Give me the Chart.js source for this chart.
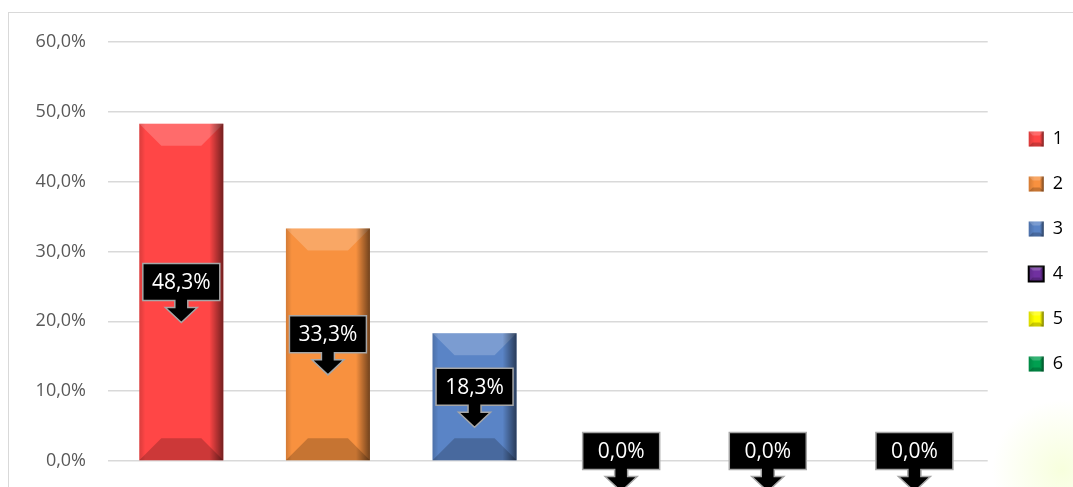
<!DOCTYPE html>
<html>
<head>
<meta charset="utf-8">
<script src="https://cdn.jsdelivr.net/npm/chart.js@4/dist/chart.umd.min.js"></script>
<style>
  html, body { margin: 0; padding: 0; background: #fff; }
  #wrap { width: 1073px; height: 487px; }
</style>
</head>
<body>
<div id="wrap"><canvas id="shareChart" width="1073" height="487"></canvas></div>
<script>
const categories = ['1', '2', '3', '4', '5', '6'];
const shares = [48.3, 33.3, 18.3, 0, 0, 0];
const barColors = ['#ff4646', '#f8913f', '#5a84c6', '#7030a0', '#ffff00', '#00a050'];
const yMin = 0, yMax = 60, yStep = 10;

const fmtPct = v => v.toFixed(1).replace('.', ',') + '%';

// page frame + faint glow in the lower right corner
const framePlugin = {
  id: 'frame',
  beforeDraw(chart) {
    const ctx = chart.ctx;
    ctx.save();
    ctx.fillStyle = '#fff';
    ctx.fillRect(0, 0, chart.width, chart.height);
    const g = ctx.createRadialGradient(1062, 470, 0, 1062, 470, 70);
    g.addColorStop(0, 'rgba(238,255,180,0.45)');
    g.addColorStop(1, 'rgba(238,255,180,0)');
    ctx.fillStyle = g;
    ctx.fillRect(990, 390, 83, 97);
    ctx.strokeStyle = '#d9d9d9';
    ctx.lineWidth = 1;
    ctx.strokeRect(8.5, 12.5, 1200, 600);
    ctx.restore();
  }
};

function bevel(ctx, left, top, right, bottom, depth) {
  const w = right - left, h = bottom - top;
  if (h < 1) return;
  const d = Math.min(depth, h / 2, w / 2);
  ctx.fillStyle = 'rgba(255,255,255,0.2)';
  ctx.beginPath();
  ctx.moveTo(left, top); ctx.lineTo(right, top);
  ctx.lineTo(right - d, top + d); ctx.lineTo(left + d, top + d);
  ctx.closePath(); ctx.fill();
  ctx.fillStyle = 'rgba(0,0,0,0.2)';
  ctx.beginPath();
  ctx.moveTo(left, bottom); ctx.lineTo(right, bottom);
  ctx.lineTo(right - d, bottom - d); ctx.lineTo(left + d, bottom - d);
  ctx.closePath(); ctx.fill();
  const sw = Math.min(14, w / 4);
  let g = ctx.createLinearGradient(right - sw, 0, right, 0);
  g.addColorStop(0, 'rgba(0,0,0,0)');
  g.addColorStop(1, 'rgba(0,0,0,0.55)');
  ctx.fillStyle = g;
  ctx.fillRect(right - sw, top, sw, h);
  g = ctx.createLinearGradient(left, 0, left + 6, 0);
  g.addColorStop(0, 'rgba(0,0,0,0.15)');
  g.addColorStop(1, 'rgba(0,0,0,0)');
  ctx.fillStyle = g;
  ctx.fillRect(left, top, 6, h);
}

const bevelPlugin = {
  id: 'bevel',
  afterDatasetsDraw(chart) {
    const ctx = chart.ctx;
    ctx.save();
    chart.getDatasetMeta(0).data.forEach(bar => {
      const p = bar.getProps(['x', 'y', 'base', 'width'], true);
      bevel(ctx, p.x - p.width / 2, p.y, p.x + p.width / 2, p.base, 22);
    });
    // legend swatches
    const lg = chart.legend;
    if (lg && lg.legendHitBoxes) {
      lg.legendHitBoxes.forEach(hb => {
        const top = hb.top + (hb.height - 15) / 2;
        bevel(ctx, hb.left, top, hb.left + 15, top + 15, 4);
      });
    }
    ctx.restore();
  }
};

// black callout with a down arrow
const calloutPlugin = {
  id: 'callouts',
  afterDraw(chart) {
    const ctx = chart.ctx;
    ctx.save();
    chart.getDatasetMeta(0).data.forEach((bar, i) => {
      const p = bar.getProps(['x', 'y', 'base'], true);
      const cx = p.x, cy = (p.y + p.base) / 2 - 10;
      const bw = 77, bh = 37, sw = 13, sh = 7, hw = 32, hh = 15;
      const top = cy - bh / 2, bot = cy + bh / 2;
      ctx.beginPath();
      ctx.moveTo(cx - bw / 2, top);
      ctx.lineTo(cx + bw / 2, top);
      ctx.lineTo(cx + bw / 2, bot);
      ctx.lineTo(cx + sw / 2, bot);
      ctx.lineTo(cx + sw / 2, bot + sh);
      ctx.lineTo(cx + hw / 2, bot + sh);
      ctx.lineTo(cx, bot + sh + hh);
      ctx.lineTo(cx - hw / 2, bot + sh);
      ctx.lineTo(cx - sw / 2, bot + sh);
      ctx.lineTo(cx - sw / 2, bot);
      ctx.lineTo(cx - bw / 2, bot);
      ctx.closePath();
      ctx.fillStyle = '#000';
      ctx.fill();
      ctx.strokeStyle = '#a6a6a6';
      ctx.lineWidth = 1.5;
      ctx.stroke();
      ctx.fillStyle = '#fff';
      ctx.font = '21px "Open Sans"';
      ctx.textAlign = 'center';
      ctx.textBaseline = 'middle';
      ctx.fillText(fmtPct(shares[i]), cx, cy + 1);
    });
    ctx.restore();
  }
};

new Chart(document.getElementById('shareChart'), {
  type: 'bar',
  data: {
    labels: categories,
    datasets: [{
      label: 'Share',
      data: shares,
      backgroundColor: barColors,
      borderWidth: 0,
      categoryPercentage: 1,
      barPercentage: 0.573
    }]
  },
  options: {
    responsive: false,
    animation: false,
    devicePixelRatio: 1,
    layout: { padding: { left: 8, top: 42, bottom: 26, right: 0 } },
    scales: {
      x: { display: false },
      y: {
        min: yMin,
        max: yMax,
        ticks: {
          stepSize: yStep,
          padding: 22,
          color: '#595959',
          font: { family: '"Open Sans"', size: 18 },
          callback: v => fmtPct(v)
        },
        grid: { color: '#d9d9d9', lineWidth: 1.5, drawTicks: false },
        border: { display: false },
        afterFit(s) {
          s.width = 100;
          // tick padding is only meant horizontally here
          s.paddingTop = 11;
          s.paddingBottom = 11;
        }
      },
      spacer: {
        type: 'linear',
        position: 'right',
        display: true,
        grid: { display: false },
        ticks: { display: false },
        border: { display: false },
        afterFit(s) { s.width = 14; }
      }
    },
    plugins: {
      legend: {
        position: 'right',
        align: 'center',
        labels: {
          boxWidth: 15,
          boxHeight: 15,
          padding: 27,
          color: '#595959',
          font: { family: '"Open Sans"', size: 18 },
          generateLabels: () => categories.map((c, i) => ({
            text: c,
            fillStyle: barColors[i],
            strokeStyle: i === 3 ? '#000' : barColors[i],
            lineWidth: i === 3 ? 2 : 0,
            hidden: false,
            index: i,
            datasetIndex: 0
          }))
        }
      },
      tooltip: { enabled: false }
    }
  },
  plugins: [framePlugin, bevelPlugin, calloutPlugin]
});
</script>
</body>
</html>
